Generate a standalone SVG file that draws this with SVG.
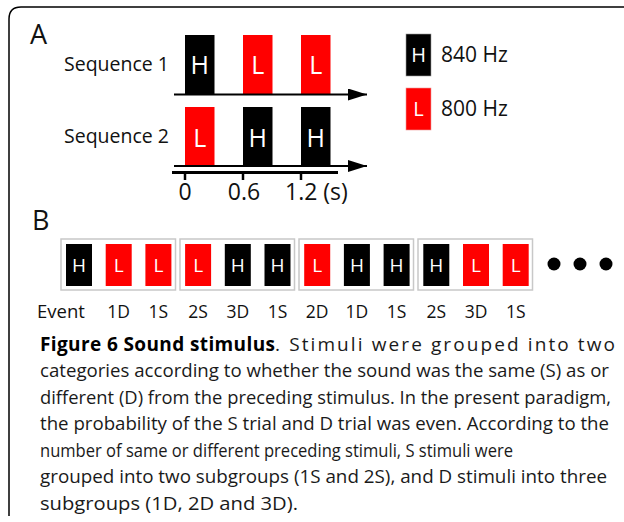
<svg xmlns="http://www.w3.org/2000/svg" width="624" height="522" viewBox="0 0 624 522">
<defs>
<style>
text{font-family:"Open Sans","Liberation Sans",sans-serif;}
.lbl{font-size:19.5px;fill:#111;}
.panel{font-size:27px;fill:#111;}
.box-h{fill:#000;}
.box-l{fill:#ff0000;}
.in{fill:#fff;text-anchor:middle;}
.axis{stroke:#000;stroke-width:2;fill:none;}
.grp{fill:none;stroke:#c8c8c8;stroke-width:1.5;}
.ev{font-size:17.5px;fill:#111;text-anchor:middle;}
.cap{font-size:19px;fill:#1a1a1a;}
.capb{font-size:19px;font-weight:bold;fill:#000;}
</style>
<marker id="arr" viewBox="0 0 19 12" refX="19" refY="6" markerWidth="19" markerHeight="12" markerUnits="userSpaceOnUse" orient="auto">
<path d="M0,0 L19,6 L0,12 Z" fill="#000"/>
</marker>
</defs>
<rect width="624" height="522" fill="#fff"/>
<path d="M9,516 L9,19 Q9,7 21,7 L624,7" fill="none" stroke="#000" stroke-width="1.5"/>

<g id="panelA">
<text class="panel" x="30" y="44">A</text>
<text class="lbl" x="64" y="71">Sequence 1</text>
<text class="lbl" x="64" y="143">Sequence 2</text>
<g id="seq1">
<rect class="box-h" x="185" y="35" width="29.5" height="59"/>
<text class="in" x="199.7" y="74" font-size="25">H</text>
<rect class="box-l" x="243" y="35" width="29.5" height="59"/>
<text class="in" x="257.7" y="74" font-size="25">L</text>
<rect class="box-l" x="301" y="35" width="29.5" height="59"/>
<text class="in" x="315.7" y="74" font-size="25">L</text>
</g>
<g id="seq2">
<rect class="box-l" x="185" y="107" width="29.5" height="59"/>
<text class="in" x="199.7" y="147" font-size="25">L</text>
<rect class="box-h" x="243" y="107" width="29.5" height="59"/>
<text class="in" x="257.7" y="147" font-size="25">H</text>
<rect class="box-h" x="301" y="107" width="29.5" height="59"/>
<text class="in" x="315.7" y="147" font-size="25">H</text>
</g>
<g id="timeaxis">
<line x1="172" y1="172.5" x2="338" y2="172.5" stroke="#000" stroke-width="3"/>
<line x1="185" y1="172" x2="185" y2="180" stroke="#000" stroke-width="2.5"/>
<line x1="243" y1="172" x2="243" y2="180" stroke="#000" stroke-width="2.5"/>
<line x1="301" y1="172" x2="301" y2="180" stroke="#000" stroke-width="2.5"/>
<text x="185" y="200" font-size="23" fill="#111" text-anchor="middle">0</text>
<text x="244" y="200" font-size="23" fill="#111" text-anchor="middle">0.6</text>
<text x="285" y="200" font-size="23" fill="#111">1.2 (s)</text>
</g>
<g id="legend">
<rect class="box-h" x="406" y="34" width="25" height="42" stroke="#999" stroke-width="0.6"/>
<text class="in" x="418.5" y="62" font-size="20">H</text>
<text x="441" y="62" font-size="21" fill="#111">840 Hz</text>
<rect class="box-l" x="406" y="88" width="25" height="42" stroke="#e99" stroke-width="0.6"/>
<text class="in" x="418.5" y="116" font-size="20">L</text>
<text x="441" y="116" font-size="21" fill="#111">800 Hz</text>
</g>
</g>

<g id="connectors">
<line class="axis" x1="174" y1="94.5" x2="367" y2="94.5" marker-end="url(#arr)"/>
<line class="axis" x1="174" y1="166" x2="367" y2="166" marker-end="url(#arr)"/>
</g>

<g id="panelB">
<text class="panel" x="32" y="230" font-size="29">B</text>
<rect class="grp" x="61" y="239" width="114.5" height="51"/>
<rect class="grp" x="180" y="239" width="114.5" height="51"/>
<rect class="grp" x="299" y="239" width="114.5" height="51"/>
<rect class="grp" x="418" y="239" width="114.5" height="51"/>
<g font-size="19">
<rect class="box-h" x="66" y="244" width="26" height="42"/><text class="in" x="79" y="272">H</text>
<rect class="box-l" x="105.7" y="244" width="26" height="42"/><text class="in" x="118.7" y="272">L</text>
<rect class="box-l" x="145.4" y="244" width="26" height="42"/><text class="in" x="158.4" y="272">L</text>
<rect class="box-l" x="185.1" y="244" width="26" height="42"/><text class="in" x="198.1" y="272">L</text>
<rect class="box-h" x="224.8" y="244" width="26" height="42"/><text class="in" x="237.8" y="272">H</text>
<rect class="box-h" x="264.5" y="244" width="26" height="42"/><text class="in" x="277.5" y="272">H</text>
<rect class="box-l" x="304.2" y="244" width="26" height="42"/><text class="in" x="317.2" y="272">L</text>
<rect class="box-h" x="343.9" y="244" width="26" height="42"/><text class="in" x="356.9" y="272">H</text>
<rect class="box-h" x="383.6" y="244" width="26" height="42"/><text class="in" x="396.6" y="272">H</text>
<rect class="box-h" x="423.3" y="244" width="26" height="42"/><text class="in" x="436.3" y="272">H</text>
<rect class="box-l" x="463" y="244" width="26" height="42"/><text class="in" x="476" y="272">L</text>
<rect class="box-l" x="502.7" y="244" width="26" height="42"/><text class="in" x="515.7" y="272">L</text>
</g>
<circle cx="554" cy="264" r="6.5" fill="#000"/>
<circle cx="580" cy="264" r="6.5" fill="#000"/>
<circle cx="606" cy="264" r="6.5" fill="#000"/>
<text x="37" y="318" font-size="18.5" fill="#111">Event</text>
<text class="ev" x="118.7" y="318">1D</text>
<text class="ev" x="158.4" y="318">1S</text>
<text class="ev" x="198.1" y="318">2S</text>
<text class="ev" x="237.8" y="318">3D</text>
<text class="ev" x="277.5" y="318">1S</text>
<text class="ev" x="317.2" y="318">2D</text>
<text class="ev" x="356.9" y="318">1D</text>
<text class="ev" x="396.6" y="318">1S</text>
<text class="ev" x="436.3" y="318">2S</text>
<text class="ev" x="476" y="318">3D</text>
<text class="ev" x="515.7" y="318">1S</text>
</g>

<g id="caption">
<text class="capb" x="40" y="351" textLength="235" lengthAdjust="spacing">Figure 6 Sound stimulus</text>
<text class="cap" x="275" y="351" textLength="340" lengthAdjust="spacing">. Stimuli were grouped into two</text>
<text class="cap" x="40" y="377" textLength="569" lengthAdjust="spacingAndGlyphs">categories according to whether the sound was the same (S) as or</text>
<text class="cap" x="40" y="404" textLength="571" lengthAdjust="spacingAndGlyphs">different (D) from the preceding stimulus. In the present paradigm,</text>
<text class="cap" x="40" y="430" textLength="569" lengthAdjust="spacingAndGlyphs">the probability of the S trial and D trial was even. According to the</text>
<text class="cap" x="40" y="457" textLength="473" lengthAdjust="spacingAndGlyphs">number of same or different preceding stimuli, S stimuli were</text>
<text class="cap" x="40" y="483" textLength="567" lengthAdjust="spacingAndGlyphs">grouped into two subgroups (1S and 2S), and D stimuli into three</text>
<text class="cap" x="40" y="510" textLength="258" lengthAdjust="spacingAndGlyphs">subgroups (1D, 2D and 3D).</text>
</g>
</svg>
